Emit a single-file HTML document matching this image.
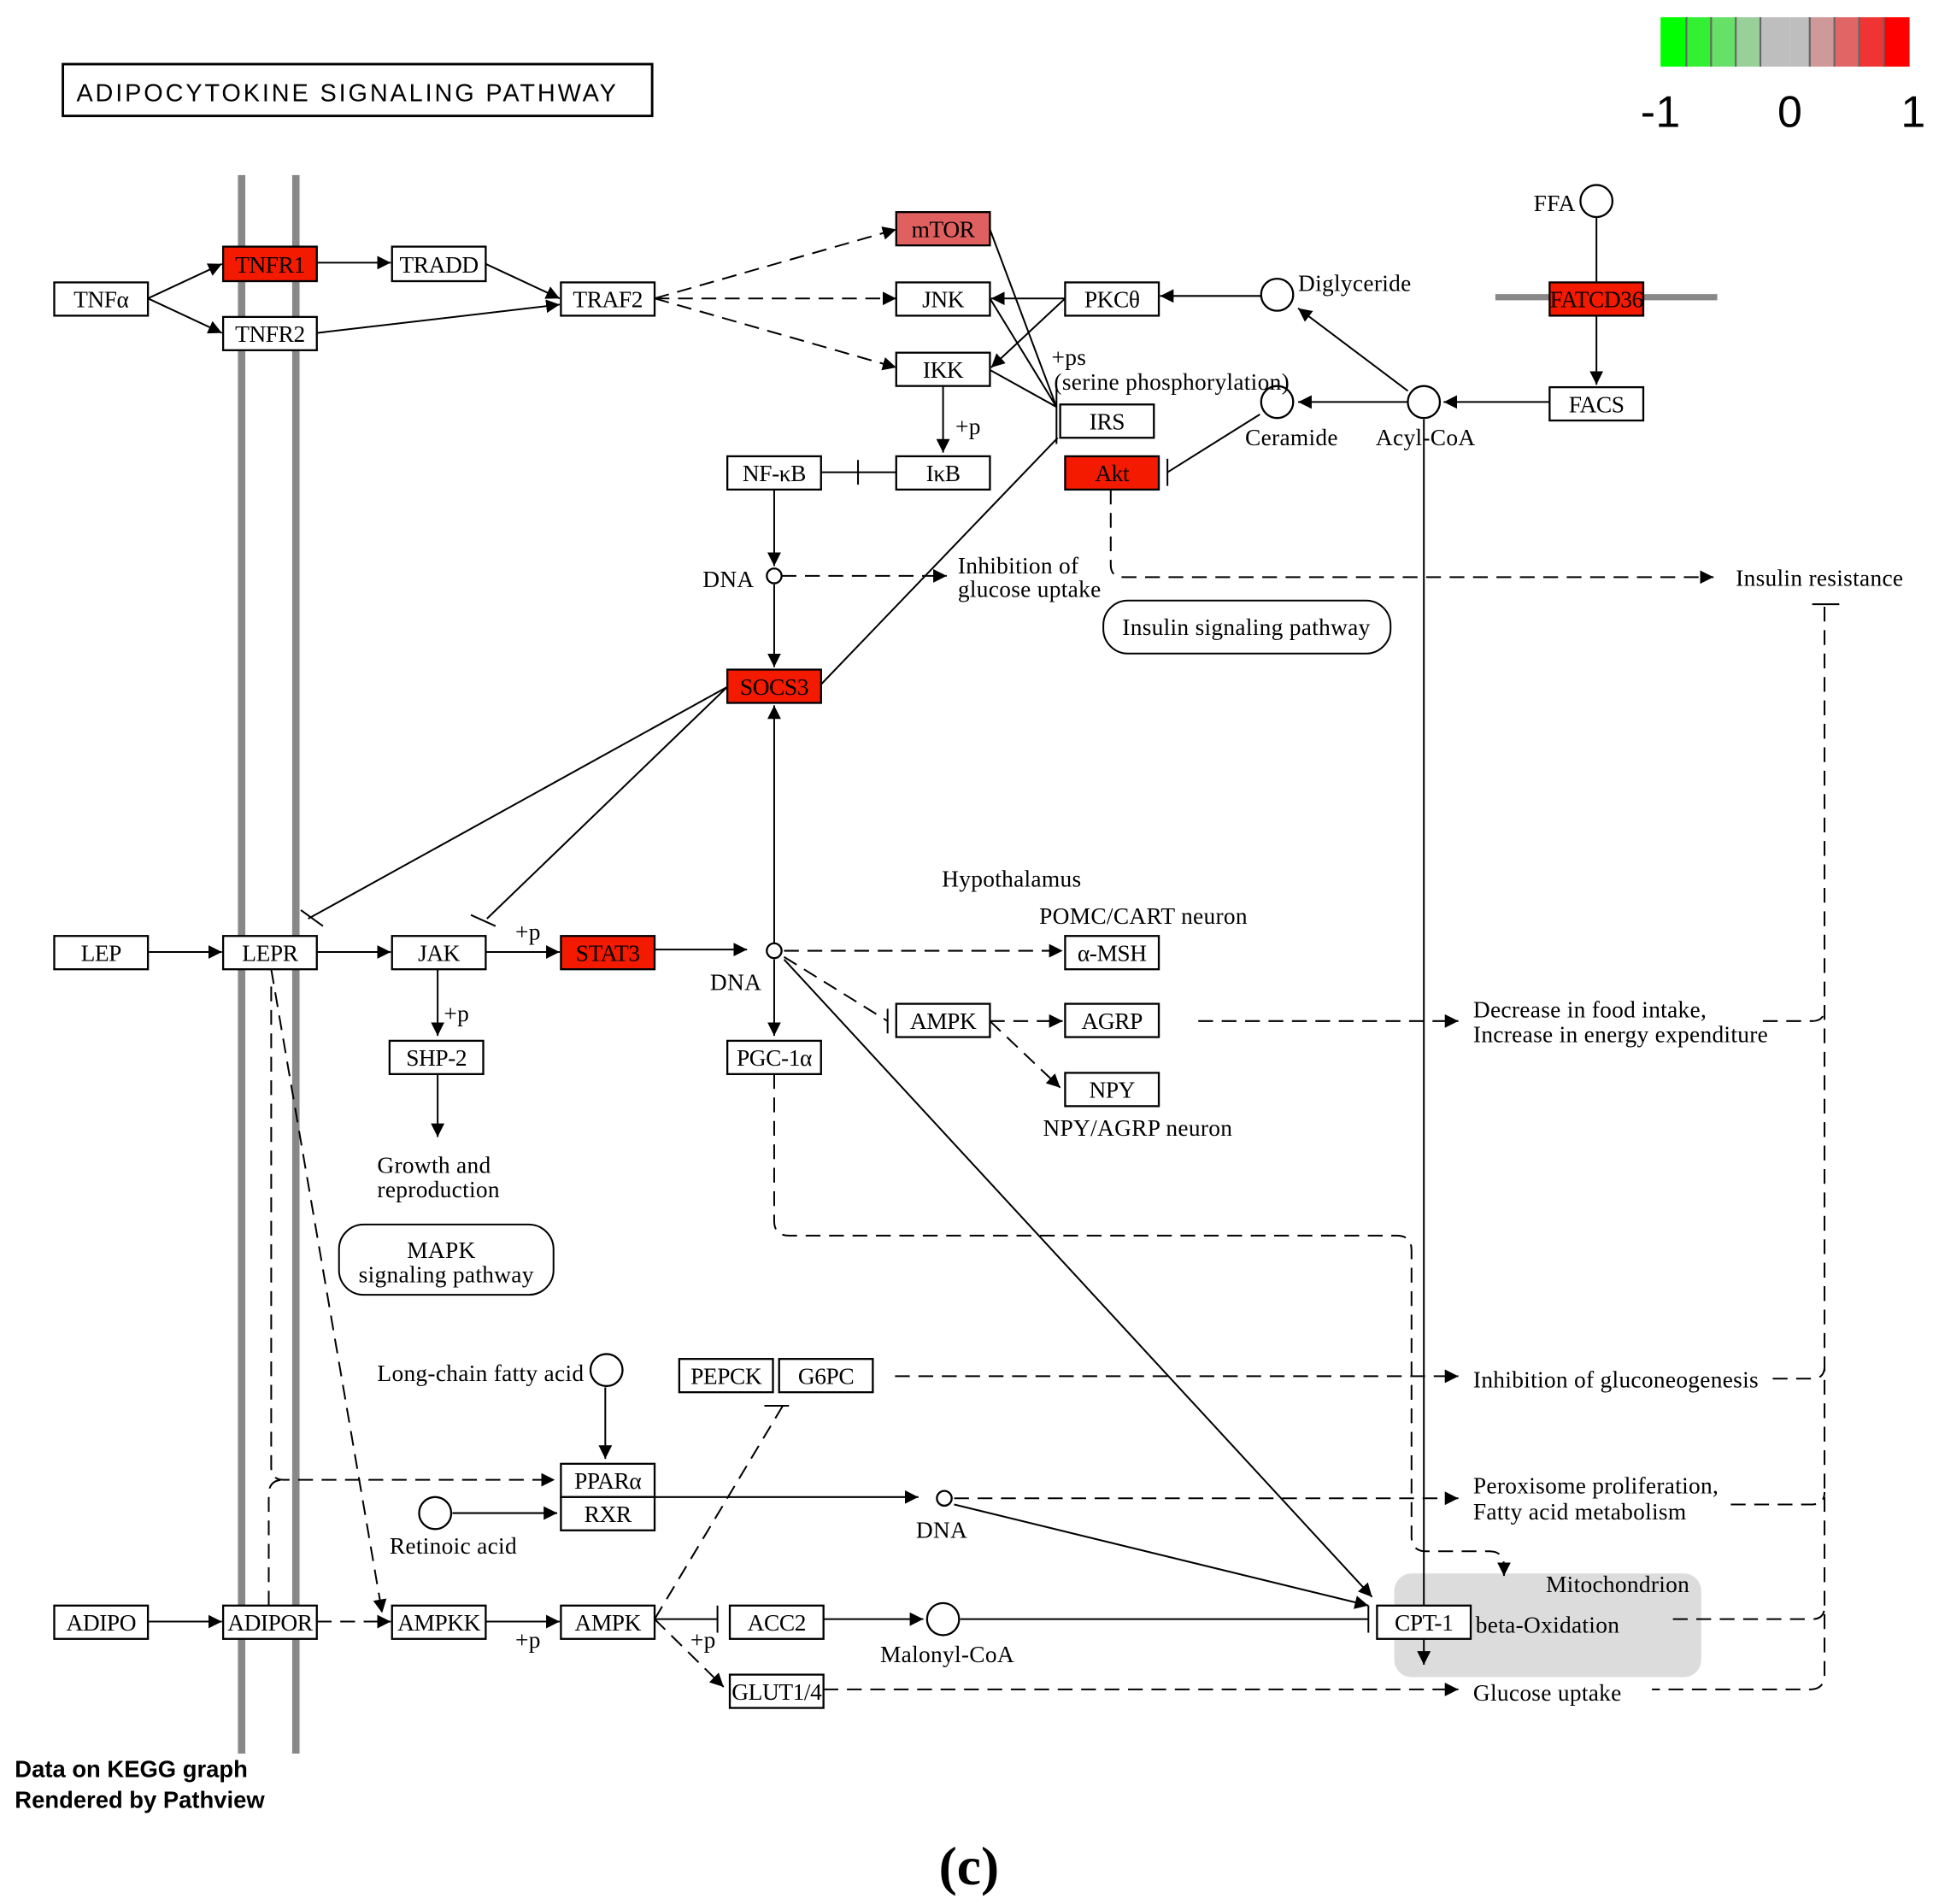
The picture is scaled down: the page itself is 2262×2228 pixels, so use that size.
<!DOCTYPE html>
<html><head><meta charset="utf-8"><style>
html,body{margin:0;padding:0;background:#fff}
svg{display:block}
text{font-family:"Liberation Serif",serif;font-size:19px;fill:#000;letter-spacing:0.2px}
.n rect{fill:#fff;stroke:#000;stroke-width:1.6}
.n text{text-anchor:middle;dominant-baseline:central;letter-spacing:-0.3px}
.r rect{fill:#f31a00}
.l{stroke:#000;stroke-width:1.4;fill:none}
.d{stroke:#000;stroke-width:1.4;fill:none;stroke-dasharray:12 7}
</style></head><body>
<svg width="2262" height="2228" viewBox="0 0 1568 1544" preserveAspectRatio="none" xmlns="http://www.w3.org/2000/svg">
<defs><marker id="a" viewBox="0 0 10 10" refX="10" refY="5" markerWidth="11" markerHeight="11" markerUnits="userSpaceOnUse" orient="auto"><path d="M0,0L10,5L0,10z" fill="#000"/></marker></defs>

<rect x="51" y="52" width="478" height="42" fill="#fff" stroke="#000" stroke-width="2"/>
<text x="62" y="82" style="font-family:'Liberation Sans',sans-serif;font-size:20px;letter-spacing:2px">ADIPOCYTOKINE SIGNALING PATHWAY</text>

<g>
<rect x="1347" y="14" width="21" height="40" fill="#00ff00"/>
<rect x="1368" y="14" width="20" height="40" fill="#33f033"/>
<rect x="1388" y="14" width="20" height="40" fill="#66e066"/>
<rect x="1408" y="14" width="20" height="40" fill="#99d099"/>
<rect x="1428" y="14" width="24" height="40" fill="#bebebe"/>
<rect x="1452" y="14" width="16" height="40" fill="#bebebe"/>
<rect x="1468" y="14" width="20" height="40" fill="#d09999"/>
<rect x="1488" y="14" width="20" height="40" fill="#e06666"/>
<rect x="1508" y="14" width="20" height="40" fill="#f03333"/>
<rect x="1528" y="14" width="21" height="40" fill="#ff0000"/>
<g stroke="#666" stroke-width="1.5"><line x1="1368" y1="14" x2="1368" y2="54"/><line x1="1388" y1="14" x2="1388" y2="54"/><line x1="1408" y1="14" x2="1408" y2="54"/><line x1="1428" y1="14" x2="1428" y2="54"/><line x1="1468" y1="14" x2="1468" y2="54"/><line x1="1488" y1="14" x2="1488" y2="54"/><line x1="1508" y1="14" x2="1508" y2="54"/><line x1="1528" y1="14" x2="1528" y2="54"/></g>
<text x="1347" y="103" text-anchor="middle" style="font-family:'Liberation Sans',sans-serif;font-size:36px">-1</text>
<text x="1452" y="103" text-anchor="middle" style="font-family:'Liberation Sans',sans-serif;font-size:36px">0</text>
<text x="1552" y="103" text-anchor="middle" style="font-family:'Liberation Sans',sans-serif;font-size:36px">1</text>
</g>

<line x1="196" y1="142" x2="196" y2="1422" stroke="#888" stroke-width="6"/>
<line x1="240" y1="142" x2="240" y2="1422" stroke="#888" stroke-width="6"/>
<line x1="1213" y1="241" x2="1393" y2="241" stroke="#888" stroke-width="5"/>

<rect x="1131" y="1276" width="249" height="84" rx="14" fill="#dcdcdc"/>
<rect x="895" y="487" width="233" height="43" rx="20" fill="#fff" stroke="#000" stroke-width="1.4"/>
<text x="1011" y="515" text-anchor="middle">Insulin signaling pathway</text>
<rect x="275" y="993" width="174" height="57" rx="20" fill="#fff" stroke="#000" stroke-width="1.4"/>
<text x="358" y="1020" text-anchor="middle">MAPK</text><text x="362" y="1040" text-anchor="middle">signaling pathway</text>

<g class="l" marker-end="url(#a)">
<line x1="120" y1="242" x2="180" y2="214"/><line x1="120" y1="242" x2="180" y2="270"/>
<line x1="257" y1="213" x2="317" y2="213"/><line x1="394" y1="214" x2="454" y2="242"/>
<line x1="257" y1="270" x2="454" y2="247"/>
<line x1="864" y1="242" x2="804" y2="242"/><line x1="864" y1="242" x2="804" y2="298"/>
<line x1="1023" y1="240" x2="941" y2="240"/><line x1="1142" y1="317" x2="1053" y2="250"/>
<line x1="1142" y1="326" x2="1053" y2="326"/><line x1="1257" y1="326" x2="1171" y2="326"/>
<line x1="1295" y1="256" x2="1295" y2="312"/>
<line x1="1155" y1="340" x2="1155" y2="1350"/>
<line x1="765" y1="313" x2="765" y2="367"/>
<line x1="628" y1="397" x2="628" y2="459"/><line x1="628" y1="474" x2="628" y2="541"/>
<line x1="120" y1="772" x2="180" y2="772"/><line x1="257" y1="772" x2="317" y2="772"/>
<line x1="394" y1="772" x2="454" y2="772"/><line x1="531" y1="770" x2="606" y2="770"/>
<line x1="628" y1="765" x2="628" y2="572"/><line x1="628" y1="778" x2="628" y2="840"/>
<line x1="636" y1="778" x2="1113" y2="1295"/>
<line x1="355" y1="786" x2="355" y2="840"/><line x1="355" y1="871" x2="355" y2="922"/>
<line x1="491" y1="1125" x2="491" y2="1183"/><line x1="367" y1="1227" x2="452" y2="1227"/>
<line x1="531" y1="1214" x2="745" y2="1214"/><line x1="774" y1="1220" x2="1110" y2="1302"/>
<line x1="120" y1="1315" x2="180" y2="1315"/><line x1="394" y1="1315" x2="454" y2="1315"/>
<line x1="668" y1="1313" x2="749" y2="1313"/>
</g>
<g class="l">
<line x1="1295" y1="176" x2="1295" y2="229"/>
<line x1="803" y1="186" x2="857" y2="330"/><line x1="803" y1="242" x2="857" y2="330"/><line x1="803" y1="300" x2="857" y2="330"/>
<line x1="857" y1="315" x2="857" y2="360"/>
<line x1="1022" y1="336" x2="947" y2="383"/><line x1="947" y1="372" x2="947" y2="394"/>
<line x1="727" y1="383" x2="666" y2="383"/><line x1="696" y1="373" x2="696" y2="393"/>
<line x1="666" y1="555" x2="858" y2="355"/>
<line x1="590" y1="557" x2="250" y2="745"/><line x1="244" y1="738" x2="262" y2="751"/>
<line x1="590" y1="557" x2="395" y2="745"/><line x1="382" y1="742" x2="402" y2="751"/>
<line x1="531" y1="1313" x2="582" y2="1313"/><line x1="582" y1="1302" x2="582" y2="1324"/>
<line x1="779" y1="1313" x2="1110" y2="1313"/><line x1="1110" y1="1302" x2="1110" y2="1324"/>
<line x1="1470" y1="490" x2="1492" y2="490"/>
<line x1="620" y1="1140" x2="640" y2="1140"/>
<line x1="720" y1="818" x2="720" y2="838"/>
</g>
<g class="d" marker-end="url(#a)">
<line x1="531" y1="242" x2="727" y2="186"/><line x1="531" y1="242" x2="727" y2="242"/><line x1="531" y1="242" x2="727" y2="298"/>
<line x1="634" y1="467" x2="768" y2="467"/>
<path d="M901,397V458Q901,468 911,468H1390"/>
<line x1="636" y1="771" x2="862" y2="771"/>
<line x1="803" y1="828" x2="862" y2="828"/><line x1="803" y1="828" x2="860" y2="882"/>
<line x1="972" y1="828" x2="1183" y2="828"/>
<path d="M628,871V990Q628,1002 640,1002H1133Q1145,1002 1145,1014V1246Q1145,1258 1157,1258H1208Q1220,1258 1220,1270V1278"/>
<line x1="220" y1="786" x2="310" y2="1308"/>
<path d="M220,800V1190Q220,1200 230,1200H450"/>
<line x1="774" y1="1215" x2="1183" y2="1215"/>
<line x1="726" y1="1116" x2="1183" y2="1116"/>
<line x1="257" y1="1315" x2="317" y2="1315"/>
<line x1="531" y1="1313" x2="587" y2="1368"/>
<line x1="668" y1="1370" x2="1183" y2="1370"/>
</g>
<g class="d">
<line x1="636" y1="776" x2="720" y2="828"/>
<path d="M218,1302V1212Q218,1200 230,1200"/>
<line x1="531" y1="1313" x2="635" y2="1140"/>
<path d="M1480,492V1358Q1480,1370 1468,1370H1340"/>
<path d="M1430,828H1470Q1480,828 1480,818"/>
<path d="M1438,1118H1470Q1480,1118 1480,1108"/>
<path d="M1404,1220H1470Q1480,1220 1480,1210"/>
<path d="M1357,1313H1470Q1480,1313 1480,1303"/>
</g>

<g fill="#fff" stroke="#000" stroke-width="1.6">
<circle cx="1295" cy="163" r="13"/><circle cx="1036" cy="239" r="13"/><circle cx="1036" cy="326" r="13"/><circle cx="1155" cy="326" r="13"/>
<circle cx="628" cy="467" r="6"/><circle cx="628" cy="771" r="6"/><circle cx="766" cy="1215" r="6"/>
<circle cx="492" cy="1111" r="13"/><circle cx="353" cy="1227" r="13"/><circle cx="765" cy="1313" r="13"/>
</g>

<g class="n">
<rect x="44" y="229" width="76" height="27"/><text x="82" y="243">TNFα</text>
<g class="r"><rect x="181" y="200" width="76" height="28"/></g><text x="219" y="215">TNFR1</text>
<rect x="181" y="257" width="76" height="27"/><text x="219" y="271">TNFR2</text>
<rect x="318" y="200" width="76" height="28"/><text x="356" y="215">TRADD</text>
<rect x="455" y="229" width="76" height="27"/><text x="493" y="243">TRAF2</text>
<rect x="727" y="172" width="76" height="27" style="fill:#e0605f"/><text x="765" y="186">mTOR</text>
<rect x="727" y="229" width="76" height="27"/><text x="765" y="243">JNK</text>
<rect x="727" y="286" width="76" height="27"/><text x="765" y="300">IKK</text>
<rect x="864" y="229" width="76" height="27"/><text x="902" y="243">PKCθ</text>
<rect x="860" y="328" width="76" height="27"/><text x="898" y="342">IRS</text>
<g class="r"><rect x="864" y="370" width="76" height="27"/></g><text x="902" y="384">Akt</text>
<rect x="590" y="370" width="76" height="27"/><text x="628" y="384">NF-κB</text>
<rect x="727" y="370" width="76" height="27"/><text x="765" y="384">IκB</text>
<g class="r"><rect x="590" y="543" width="76" height="27"/></g><text x="628" y="557">SOCS3</text>
<g class="r"><rect x="1257" y="229" width="76" height="27"/></g><text x="1295" y="243">FATCD36</text>
<rect x="1257" y="314" width="76" height="27"/><text x="1295" y="328">FACS</text>
<rect x="44" y="759" width="76" height="27"/><text x="82" y="773">LEP</text>
<rect x="181" y="759" width="76" height="27"/><text x="219" y="773">LEPR</text>
<rect x="318" y="759" width="76" height="27"/><text x="356" y="773">JAK</text>
<g class="r"><rect x="455" y="759" width="76" height="27"/></g><text x="493" y="773">STAT3</text>
<rect x="316" y="844" width="76" height="27"/><text x="354" y="858">SHP-2</text>
<rect x="590" y="844" width="76" height="27"/><text x="628" y="858">PGC-1α</text>
<rect x="864" y="759" width="76" height="27"/><text x="902" y="773">α-MSH</text>
<rect x="727" y="814" width="76" height="27"/><text x="765" y="828">AMPK</text>
<rect x="864" y="814" width="76" height="27"/><text x="902" y="828">AGRP</text>
<rect x="864" y="870" width="76" height="27"/><text x="902" y="884">NPY</text>
<rect x="551" y="1102" width="76" height="27"/><text x="589" y="1116">PEPCK</text>
<rect x="632" y="1102" width="76" height="27"/><text x="670" y="1116">G6PC</text>
<rect x="455" y="1187" width="76" height="27"/><text x="493" y="1201">PPARα</text>
<rect x="455" y="1214" width="76" height="27"/><text x="493" y="1228">RXR</text>
<rect x="44" y="1302" width="76" height="27"/><text x="82" y="1316">ADIPO</text>
<rect x="181" y="1302" width="76" height="27"/><text x="219" y="1316">ADIPOR</text>
<rect x="318" y="1302" width="76" height="27"/><text x="356" y="1316">AMPKK</text>
<rect x="455" y="1302" width="76" height="27"/><text x="493" y="1316">AMPK</text>
<rect x="592" y="1302" width="76" height="27"/><text x="630" y="1316">ACC2</text>
<rect x="592" y="1358" width="76" height="27"/><text x="630" y="1372">GLUT1/4</text>
<rect x="1117" y="1302" width="76" height="27"/><text x="1155" y="1316">CPT-1</text>
</g>

<text x="853" y="296">+ps</text><text x="855" y="316">(serine phosphorylation)</text>
<text x="1053" y="236">Diglyceride</text><text x="1010" y="361">Ceramide</text><text x="1116" y="361">Acyl-CoA</text>
<text x="1244" y="171">FFA</text>
<text x="775" y="352">+p</text><text x="418" y="762">+p</text><text x="360" y="828">+p</text>
<text x="418" y="1336">+p</text><text x="560" y="1336">+p</text>
<text x="570" y="476">DNA</text><text x="576" y="803">DNA</text><text x="743" y="1247">DNA</text>
<text x="777" y="465">Inhibition of</text><text x="777" y="484">glucose uptake</text>
<text x="1408" y="475">Insulin resistance</text>
<text x="764" y="719">Hypothalamus</text><text x="843" y="749">POMC/CART neuron</text><text x="846" y="921">NPY/AGRP neuron</text>
<text x="1195" y="825">Decrease in food intake,</text><text x="1195" y="845">Increase in energy expenditure</text>
<text x="306" y="951">Growth and</text><text x="306" y="971">reproduction</text>
<text x="306" y="1120">Long-chain fatty acid</text><text x="316" y="1260">Retinoic acid</text>
<text x="1195" y="1125">Inhibition of gluconeogenesis</text>
<text x="1195" y="1211">Peroxisome proliferation,</text><text x="1195" y="1232">Fatty acid metabolism</text>
<text x="1254" y="1291">Mitochondrion</text><text x="1197" y="1324">beta-Oxidation</text>
<text x="1195" y="1379">Glucose uptake</text><text x="714" y="1348">Malonyl-CoA</text>
<text x="12" y="1441" style="font-family:'Liberation Sans',sans-serif;font-weight:bold;font-size:19px;letter-spacing:0">Data on KEGG graph</text>
<text x="12" y="1466" style="font-family:'Liberation Sans',sans-serif;font-weight:bold;font-size:19px;letter-spacing:0">Rendered by Pathview</text>
<text x="786" y="1528" text-anchor="middle" style="font-weight:bold;font-size:44px;letter-spacing:0">(c)</text>
</svg>
</body></html>
